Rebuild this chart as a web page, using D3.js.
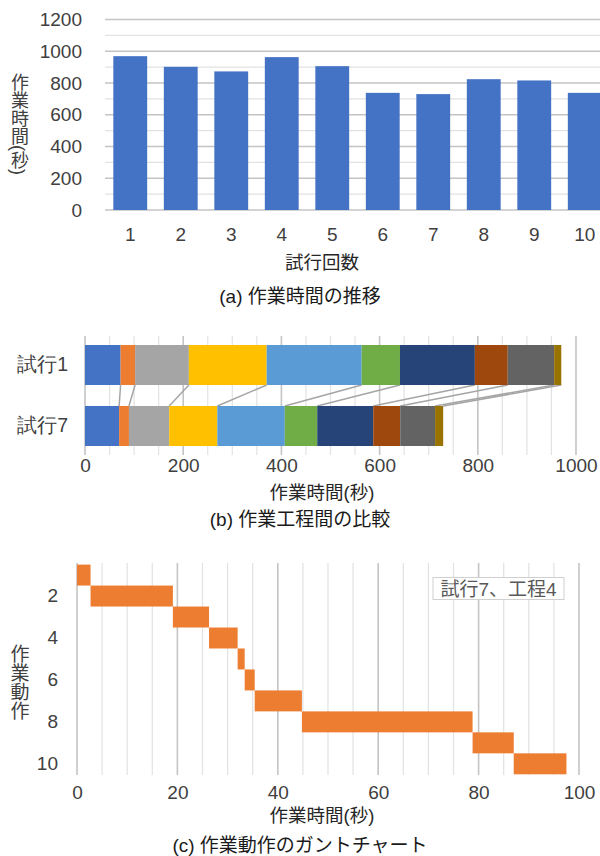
<!DOCTYPE html>
<html>
<head>
<meta charset="utf-8">
<script src="https://cdn.jsdelivr.net/npm/d3@7"></script>
<style>
  html, body { margin: 0; padding: 0; background: #fff; }
  svg { display: block; font-family: "Liberation Sans", Arial, "Noto Sans CJK JP", sans-serif; }
</style>
</head>
<body>
<svg id="fig" width="600" height="856"></svg>
<script>
// ---- (a) total work time per trial ----
const trials = [1, 2, 3, 4, 5, 6, 7, 8, 9, 10];
const trialTimes = [969, 902, 873, 963, 906, 738, 730, 824, 816, 738];
const timeTicks = [0, 200, 400, 600, 800, 1000, 1200];

// ---- (b) stage-by-stage breakdown, trial 1 vs trial 7 ----
const compareLabels = ["試行1", "試行7"];
const stageTimesTrial1 = [72.5, 29.5, 109.5, 158.5, 193.5, 78, 152.5, 67, 94.5, 14.5];
const stageTimesTrial7 = [69.5, 20, 82, 98, 137.5, 66, 114, 55, 71, 16.5];
const stageColors = ["#4472C4", "#ED7D31", "#A5A5A5", "#FFC000", "#5B9BD5",
                     "#70AD47", "#264478", "#9E480E", "#636363", "#997300"];
const compareTicks = [0, 200, 400, 600, 800, 1000];

// ---- (c) Gantt chart of motions (trial 7, stage 4) ----
const motions = [1, 2, 3, 4, 5, 6, 7, 8, 9, 10];
const motionTimes = [2.7, 16.4, 7.2, 5.7, 1.4, 2.0, 9.4, 34.0, 8.2, 10.5];
const motionTicks = [2, 4, 6, 8, 10];
const ganttTicks = [0, 20, 40, 60, 80, 100];

const svg = d3.select("#fig");
const tickColor = "#404040";
const majorGrid = "#c4c4c4";
const minorGrid = "#e2e2e2";
const plain = d3.format("d");

function styleAxis(g, size) {
  g.select(".domain").remove();
  g.selectAll("line").remove();
  g.selectAll("text")
    .attr("fill", tickColor)
    .style("font-size", size + "px");
}

function verticalTitle(x, y, text, size) {
  svg.append("text")
    .attr("x", x).attr("y", y)
    .style("writing-mode", "vertical-rl")
    .style("font-size", size + "px")
    .attr("fill", tickColor)
    .text(text);
}

function centredText(x, y, text, size, color) {
  svg.append("text")
    .attr("x", x).attr("y", y)
    .attr("text-anchor", "middle")
    .attr("dominant-baseline", "central")
    .style("font-size", size + "px")
    .attr("fill", color)
    .text(text);
}

// ================= (a) =================
{
  const x = d3.scaleBand(trials, [105, 610]).paddingInner(0.33).paddingOuter(0.165);
  const y = d3.scaleLinear([0, 1200], [210, 19.5]);
  const g = svg.append("g");

  g.selectAll("line.grid")
    .data(d3.range(0, 1201, 100))
    .join("line")
    .attr("x1", 105).attr("x2", 600)
    .attr("y1", d => y(d)).attr("y2", d => y(d))
    .attr("stroke", d => d % 200 === 0 ? majorGrid : minorGrid)
    .attr("stroke-width", d => d % 200 === 0 ? 1.6 : 1.2);

  g.selectAll("rect.bar")
    .data(trials)
    .join("rect")
    .attr("x", d => x(d))
    .attr("width", x.bandwidth())
    .attr("y", (d, i) => y(trialTimes[i]))
    .attr("height", (d, i) => y(0) - y(trialTimes[i]))
    .attr("fill", "#4472C4");

  g.append("g").attr("transform", "translate(82,0)")
    .call(d3.axisLeft(y).tickValues(timeTicks).tickFormat(plain).tickSize(0).tickPadding(0))
    .call(a => styleAxis(a, 19));

  g.append("g").attr("transform", "translate(0,210)")
    .call(d3.axisBottom(x).tickSize(0).tickPadding(18))
    .call(a => styleAxis(a, 19));

  verticalTitle(18, 73, "作業時間(秒)", 18);
  centredText(322, 262, "試行回数", 18.5, "#262626");
  centredText(300, 296, "(a) 作業時間の推移", 19, "#1a1a1a");
}

// ================= (b) =================
{
  const x = d3.scaleLinear([0, 1000], [85, 576]);
  const y = d3.scaleBand(compareLabels, [345, 446]).paddingInner(0.344);
  const g = svg.append("g");
  const series = [stageTimesTrial1, stageTimesTrial7];

  g.selectAll("line.grid")
    .data(d3.range(0, 1001, 50))
    .join("line")
    .attr("x1", d => x(d)).attr("x2", d => x(d))
    .attr("y1", 336).attr("y2", 455)
    .attr("stroke", d => d % 200 === 0 ? majorGrid : minorGrid)
    .attr("stroke-width", d => d % 200 === 0 ? 1.6 : 1.2);

  // connector lines between matching stage boundaries
  const cum1 = d3.cumsum(stageTimesTrial1);
  const cum7 = d3.cumsum(stageTimesTrial7);
  g.selectAll("line.link")
    .data(d3.range(cum1.length))
    .join("line")
    .attr("x1", i => x(cum1[i])).attr("y1", y(compareLabels[0]) + y.bandwidth())
    .attr("x2", i => x(cum7[i])).attr("y2", y(compareLabels[1]))
    .attr("stroke", "#a5a5a5")
    .attr("stroke-width", 1.5);

  compareLabels.forEach((label, r) => {
    const vals = series[r];
    const ends = d3.cumsum(vals);
    g.selectAll("rect.s" + r)
      .data(vals)
      .join("rect")
      .attr("x", (d, i) => x(ends[i] - d))
      .attr("width", (d, i) => x(ends[i]) - x(ends[i] - d))
      .attr("y", y(label))
      .attr("height", y.bandwidth())
      .attr("fill", (d, i) => stageColors[i]);
  });

  g.append("g").attr("transform", "translate(68,0)")
    .call(d3.axisLeft(y).tickSize(0).tickPadding(0))
    .call(a => styleAxis(a, 19.5));

  g.append("g").attr("transform", "translate(0,455)")
    .call(d3.axisBottom(x).tickValues(compareTicks).tickFormat(plain).tickSize(0).tickPadding(4))
    .call(a => styleAxis(a, 19));

  centredText(322, 492, "作業時間(秒)", 18.5, "#262626");
  centredText(300, 519, "(b) 作業工程間の比較", 19, "#1a1a1a");
}

// ================= (c) =================
{
  const x = d3.scaleLinear([0, 100], [77, 579]);
  const y = d3.scaleBand(motions, [564.6, 774.3]);
  const g = svg.append("g");
  const ends = d3.cumsum(motionTimes);

  g.selectAll("line.grid")
    .data(d3.range(0, 101, 5))
    .join("line")
    .attr("x1", d => x(d)).attr("x2", d => x(d))
    .attr("y1", 563).attr("y2", 775)
    .attr("stroke", d => d % 20 === 0 ? majorGrid : minorGrid)
    .attr("stroke-width", d => d % 20 === 0 ? 1.6 : 1.2);

  g.selectAll("rect.task")
    .data(motions)
    .join("rect")
    .attr("x", (d, i) => x(ends[i] - motionTimes[i]))
    .attr("width", (d, i) => x(ends[i]) - x(ends[i] - motionTimes[i]))
    .attr("y", d => y(d))
    .attr("height", y.bandwidth())
    .attr("fill", "#ED7D31");

  g.append("g").attr("transform", "translate(58,0)")
    .call(d3.axisLeft(y).tickValues(motionTicks).tickSize(0).tickPadding(0))
    .call(a => styleAxis(a, 19));

  g.append("g").attr("transform", "translate(0,775)")
    .call(d3.axisBottom(x).tickValues(ganttTicks).tickSize(0).tickPadding(11))
    .call(a => styleAxis(a, 19));

  // label box
  g.append("rect")
    .attr("x", 433).attr("y", 577.5)
    .attr("width", 131).attr("height", 22)
    .attr("fill", "#fff")
    .attr("stroke", "#d0d0d0");
  centredText(498.5, 589, "試行7、工程4", 19, "#595959");

  verticalTitle(18, 644, "作業動作", 19);
  centredText(322, 815, "作業時間(秒)", 18.5, "#262626");
  centredText(300, 845, "(c) 作業動作のガントチャート", 19, "#1a1a1a");
}
</script>
</body>
</html>
